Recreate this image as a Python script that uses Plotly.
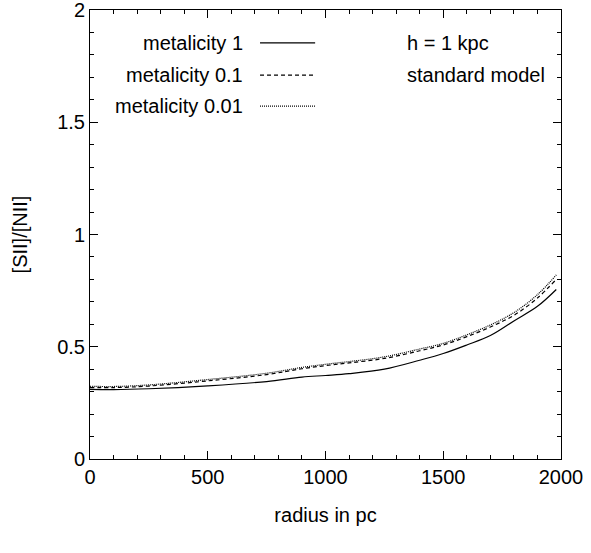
import plotly.graph_objects as go

radius = [0, 100, 250, 500, 750, 900, 1000, 1100, 1250, 1400, 1500, 1600, 1700, 1800, 1900, 1980]
met_1 = [0.310, 0.309, 0.313, 0.326, 0.345, 0.365, 0.372, 0.380, 0.400, 0.440, 0.470, 0.508, 0.550, 0.615, 0.680, 0.755]
met_01 = [0.318, 0.318, 0.325, 0.348, 0.376, 0.402, 0.416, 0.428, 0.448, 0.482, 0.508, 0.545, 0.588, 0.640, 0.717, 0.800]
met_001 = [0.324, 0.323, 0.330, 0.354, 0.382, 0.408, 0.422, 0.434, 0.455, 0.490, 0.515, 0.553, 0.597, 0.652, 0.732, 0.820]

series = [
    ("metalicity 1", met_1, "solid"),
    ("metalicity 0.1", met_01, "4px,3px"),
    ("metalicity 0.01", met_001, "1px,1px"),
]

FONT = "Liberation Sans, Arial, sans-serif"
FS = 20
fig = go.Figure()
for name, ys, dash in series:
    fig.add_trace(go.Scatter(x=radius, y=ys, mode="lines", name=name,
                             line=dict(color="black", width=1.2, dash=dash, shape="spline"),
                             showlegend=False))

# gnuplot-style key: text right-aligned, sample line to the right
key_y = [0.927, 0.855, 0.786]
for (name, ys, dash), ky in zip(series, key_y):
    fig.add_annotation(xref="paper", yref="paper", x=0.329, y=ky, text=name,
                       showarrow=False, xanchor="right", yanchor="middle",
                       font=dict(family=FONT, size=FS, color="black"))
    fig.add_shape(type="line", xref="paper", yref="paper", x0=0.361, x1=0.478, y0=ky, y1=ky,
                  line=dict(color="black", width=1.2, dash=dash))

fig.add_annotation(xref="paper", yref="paper", x=0.669, y=0.927, text="h = 1 kpc",
                   showarrow=False, xanchor="left", yanchor="middle",
                   font=dict(family=FONT, size=FS, color="black"))
fig.add_annotation(xref="paper", yref="paper", x=0.669, y=0.855, text="standard model",
                   showarrow=False, xanchor="left", yanchor="middle",
                   font=dict(family=FONT, size=FS, color="black"))

axis_common = dict(showgrid=False, zeroline=False, showline=True, linecolor="black", linewidth=1,
                   mirror="allticks", ticks="inside", ticklen=8, tickcolor="black",
                   ticklabeloverflow="allow", automargin=False,
                   tickfont=dict(family=FONT, size=FS, color="black"))
fig.update_xaxes(range=[0, 2000], dtick=500, tick0=0,
                 minor=dict(dtick=100, ticks="inside", ticklen=4, tickcolor="black"),
                 title=dict(text="radius in pc", font=dict(family=FONT, size=FS, color="black"), standoff=20),
                 **axis_common)
fig.update_yaxes(range=[0, 2], dtick=0.5, tick0=0,
                 minor=dict(dtick=0.1, ticks="inside", ticklen=4, tickcolor="black"),
                 title=dict(text="[SII]/[NII]", font=dict(family=FONT, size=FS, color="black"), standoff=24),
                 **axis_common)
fig.update_layout(width=591, height=553, margin=dict(l=90, r=30, t=10, b=94),
                  plot_bgcolor="white", paper_bgcolor="white")
fig.write_html("out.html")
